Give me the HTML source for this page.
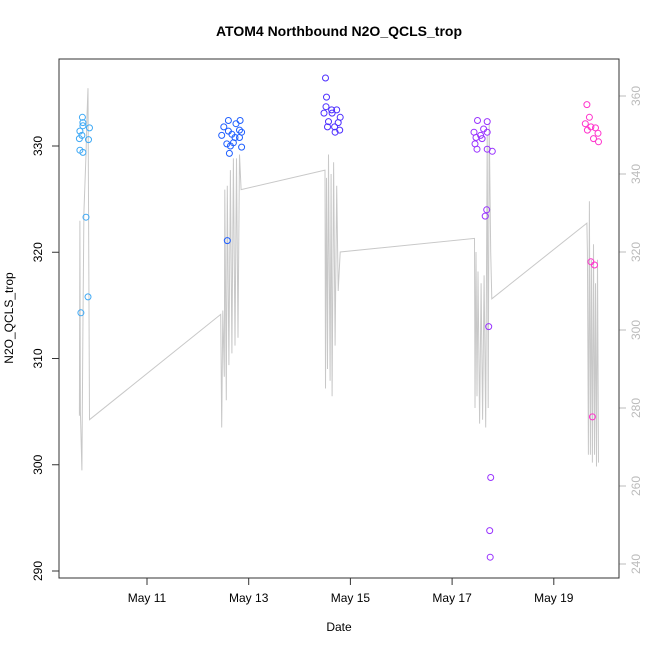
<!DOCTYPE html>
<html><head><meta charset="utf-8"><style>
html,body{margin:0;padding:0;background:#fff;}
svg{display:block;font-family:"Liberation Sans",Arial,sans-serif;}
</style></head><body>
<svg id="chart" width="650" height="650" viewBox="0 0 650 650">
<rect x="0" y="0" width="650" height="650" fill="#fff"/>
<text x="339" y="36" text-anchor="middle" font-size="14" font-weight="bold">ATOM4 Northbound N2O_QCLS_trop</text>
<text x="339" y="631" text-anchor="middle" font-size="12">Date</text>
<text x="0" y="0" transform="translate(13,318) rotate(-90)" text-anchor="middle" font-size="12">N2O_QCLS_trop</text>
<g id="gline"></g>
<g id="gpts"></g>
<g id="gaxes"></g>
<rect x="59" y="59" width="560" height="519" fill="none" stroke="#333" stroke-width="1"/>
</svg>
<script>
const xTickDays=[11,13,15,17,19];
const xTickLabels=["May 11","May 13","May 15","May 17","May 19"];
const yTicks=[290,300,310,320,330];
const y2Ticks=[240,260,280,300,320,340,360];
const clusterColors=["#3fa9f5","#1f5fff","#4d2fff","#9933ff","#ff33cc"];
const ptDay1=[9.73,9.74,9.87,9.68,9.74,9.72,9.67,9.85,9.68,9.74,9.80,9.84,9.70];
const ptVal1=[332.7,332.2,331.7,331.4,331.9,331.0,330.7,330.6,329.6,329.4,323.3,315.8,314.3];
const ptDay2=[12.60,12.83,12.75,12.51,12.60,12.82,12.86,12.47,12.67,12.73,12.82,12.57,12.70,12.64,12.86,12.62,12.58];
const ptVal2=[332.4,332.4,332.1,331.8,331.4,331.5,331.3,331.0,331.1,330.8,330.8,330.2,330.3,330.0,329.9,329.3,321.1];
const ptDay3=[14.51,14.53,14.52,14.63,14.73,14.48,14.64,14.80,14.57,14.76,14.55,14.69,14.79,14.70];
const ptVal3=[336.4,334.6,333.7,333.4,333.4,333.1,333.1,332.7,332.3,332.2,331.8,331.8,331.5,331.3];
const ptDay4=[17.50,17.69,17.43,17.62,17.69,17.56,17.47,17.59,17.45,17.49,17.69,17.79,17.68,17.65,17.72,17.76,17.74,17.75];
const ptVal4=[332.4,332.3,331.3,331.6,331.3,331.0,330.8,330.7,330.2,329.7,329.7,329.5,324.0,323.4,313.0,298.8,293.8,291.3];
const ptDay5=[19.65,19.70,19.62,19.73,19.82,19.66,19.87,19.78,19.88,19.73,19.80,19.76];
const ptVal5=[333.9,332.7,332.1,331.8,331.7,331.5,331.2,330.7,330.4,319.1,318.8,304.5];
const lineDay=[9.67,9.68,9.69,9.72,9.74,9.76,9.80,9.82,9.84,9.87,
12.45,12.47,12.49,12.52,12.53,12.56,12.58,12.61,12.64,12.67,12.70,12.73,12.76,12.79,12.82,12.85,
14.50,14.51,14.53,14.55,14.57,14.60,14.62,14.64,14.67,14.70,14.73,14.76,14.80,
17.44,17.45,17.47,17.49,17.51,17.54,17.57,17.60,17.63,17.66,17.69,17.71,17.73,17.76,17.78,
19.65,19.66,19.68,19.70,19.72,19.74,19.76,19.78,19.80,19.82,19.84,19.86,19.88];
const lineAlt=[278,328,279,264,300,330,345,355,362,277,
304,275,305,288,336,282,337,291,341,294,344,296,344,298,345,336,
341,285,339,290,345,287,340,283,343,296,337,310,320,
323.5,280,320,283,315,276,312,277,314,275,350,280,353,320,308,
327.4,320,268,333,268,318,266,322,268,312,265,318,266];

const NS="http://www.w3.org/2000/svg";
function xs(d){return 147+(d-11)*50.85;}
function ys(v){return 571-(v-290)*10.625;}
function ys2(a){return 564-(a-240)*3.9;}
function mk(tag,attrs,parent){const e=document.createElementNS(NS,tag);for(const k in attrs)e.setAttribute(k,attrs[k]);parent.appendChild(e);return e;}

const gl=document.getElementById('gline');
let d='';
for(let i=0;i<lineDay.length;i++){d+=(i?'L':'M')+xs(lineDay[i]).toFixed(1)+','+ys2(lineAlt[i]).toFixed(1);}
const pl=mk('path',{d:d,fill:'none',stroke:'#c8c8c8','stroke-width':1},gl);



const gp=document.getElementById('gpts');
const days=[ptDay1,ptDay2,ptDay3,ptDay4,ptDay5];
const vals=[ptVal1,ptVal2,ptVal3,ptVal4,ptVal5];
for(let c=0;c<5;c++){
  for(let i=0;i<days[c].length;i++){
    const p=mk('circle',{cx:xs(days[c][i]).toFixed(1),cy:ys(vals[c][i]).toFixed(1),r:3,fill:'none',stroke:clusterColors[c],'stroke-width':1},gp);
    
    
  }
}

const ga=document.getElementById('gaxes');
for(let i=0;i<xTickDays.length;i++){
  const x=xs(xTickDays[i]);
  const t=mk('line',{x1:x,y1:578,x2:x,y2:585,stroke:'#333'},ga);
  
  
  const l=mk('text',{x:x,y:602,'text-anchor':'middle','font-size':12},ga);
  l.textContent=xTickLabels[i];
  
  
}
for(let i=0;i<yTicks.length;i++){
  const y=ys(yTicks[i]);
  const t=mk('line',{x1:52,y1:y,x2:59,y2:y,stroke:'#333'},ga);
  
  
  const l=mk('text',{x:0,y:0,transform:'translate(42,'+y+') rotate(-90)','text-anchor':'middle','font-size':12},ga);
  l.textContent=yTicks[i];
  
  
}
for(let i=0;i<y2Ticks.length;i++){
  const y=ys2(y2Ticks[i]);
  const t=mk('line',{x1:619,y1:y,x2:626,y2:y,stroke:'#bbb'},ga);
  
  
  const l=mk('text',{x:0,y:0,transform:'translate(640,'+y+') rotate(-90)','text-anchor':'middle','font-size':12,fill:'#bbb'},ga);
  l.textContent=y2Ticks[i];
  
  
}
</script>
</body></html>
